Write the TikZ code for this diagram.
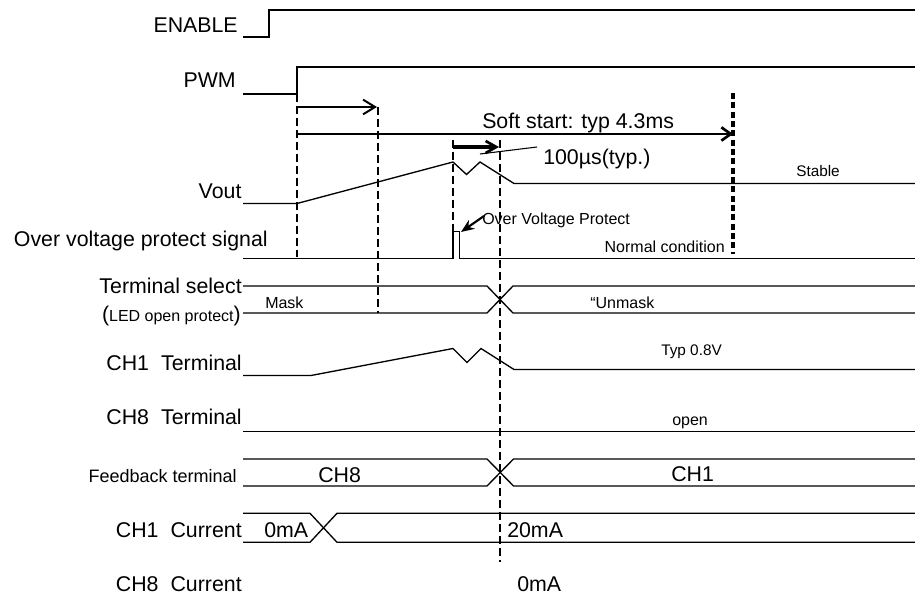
\documentclass[tikz,border=0pt]{standalone}
\usepackage{fontspec}
\setmainfont{Liberation Sans}
\usetikzlibrary{arrows.meta}
\begin{document}
\begin{tikzpicture}[x=0.75pt,y=-0.75pt,
  sig/.style={line width=1pt},
  vdash/.style={line width=1.5pt, dash pattern=on 6pt off 3pt},
  vdot/.style={line width=2.4pt, dash pattern=on 4.5pt off 2.5pt},
  arrA/.style={line width=1.5pt, -{Straight Barb[length=9pt,width=11pt,line width=1.5pt]}},
  arrB/.style={line width=2pt, -{Straight Barb[length=7pt,width=10pt,line width=2pt]}},
  arrC/.style={line width=2.6pt, -{Straight Barb[length=8pt,width=9pt,line width=2pt]}},
  arrD/.style={line width=1.6pt, -{Stealth[length=10pt,width=8pt]}},
  lead/.style={line width=0.8pt},
  lbl/.style={inner sep=0pt, anchor=base east, font=\fontsize{16}{19}\selectfont},
  big/.style={inner sep=0pt, anchor=base west, font=\fontsize{16}{19}\selectfont},
  small/.style={inner sep=0pt, anchor=base west, font=\fontsize{12}{14}\selectfont}
]
\useasboundingbox (0,0) rectangle (915,595);

% ---------- left labels ----------
\node[lbl] (lEN)  at (238,32.7) {ENABLE};
\node[lbl] (lPWM) at (236,87.7) {PWM};
\node[lbl] (lVo)  at (241.7,198.3) {Vout};
\node[lbl] (lOVP) at (268,246.7) {Over voltage protect signal};
\node[lbl] (lTS)  at (242,293.3) {Terminal select};
\node[lbl] (lLED) at (241,321.7) {(\fontsize{12}{14}\selectfont LED open protect\fontsize{16}{19}\selectfont)};
\node[lbl] (lC1T) at (242,371) {CH1\hspace{9pt}Terminal};
\node[lbl] (lC8T) at (242,425) {CH8\hspace{9pt}Terminal};
\node[lbl, font=\fontsize{13.5}{16}\selectfont] (lFB) at (237,482.7) {Feedback terminal};
\node[lbl] (lC1C) at (242,537.3) {CH1\hspace{9pt}Current};
\node[lbl] (lC8C) at (242,591) {CH8\hspace{9pt}Current};

% ---------- waveforms ----------
\draw[sig] (243,37) -- (269,37) -- (269,10) -- (915,10);
\draw[sig] (243,94) -- (297,94) -- (297,67) -- (915,67);
\draw[sig] (243,203.5) -- (297,203.5) -- (453,162) -- (466.5,174.5) -- (480,162) -- (514,183.5) -- (915,183.5);
\draw[sig] (243,258.5) -- (453,258.5) -- (453,231.5) -- (459.5,231.5) -- (459.5,258.5) -- (915,258.5);
\draw[sig] (243,286) -- (487,286) -- (513,313) -- (915,313);
\draw[sig] (243,313) -- (487,313) -- (513,286) -- (915,286);
\draw[sig] (243,375.5) -- (311,375.5) -- (453,348.5) -- (467,362.5) -- (481,348.5) -- (514,369.5) -- (915,369.5);
\draw[sig] (243,431.5) -- (915,431.5);
\draw[sig] (243,459) -- (487,459) -- (513.5,486) -- (915,486);
\draw[sig] (243,486) -- (487,486) -- (513.5,459) -- (915,459);
\draw[sig] (243,513.3) -- (310,513.3) -- (337,542.3) -- (915,542.3);
\draw[sig] (243,542.3) -- (310,542.3) -- (337,513.3) -- (915,513.3);

% ---------- vertical markers ----------
\coordinate (t0a) at (297,94);  \coordinate (t0b) at (297,257);
\coordinate (t1a) at (378,107); \coordinate (t1b) at (378,313);
\coordinate (t2a) at (453,140); \coordinate (t2b) at (453,258);
\coordinate (t3a) at (500,140); \coordinate (t3b) at (500,562);
\coordinate (t4a) at (733,93);  \coordinate (t4b) at (733,254);
\draw[vdash] (t0a) -- (t0b);
\draw[vdash] (t1a) -- (t1b);
\draw[vdash] (t2a) -- (t2b);
\draw[vdash] (t3a) -- (t3b);
\draw[vdot]  (t4a) -- (t4b);

% ---------- arrows ----------
\coordinate (a1s) at (297,107); \coordinate (a1e) at (377,107);
\coordinate (a2s) at (297,134); \coordinate (a2e) at (733,134);
\coordinate (a3s) at (453,147); \coordinate (a3e) at (499,147);
\draw[arrA] (a1s) -- (a1e);
\draw[arrB] (a2s) -- (a2e);
\draw[arrC] (a3s) -- (a3e);

% ---------- annotations ----------
\node[big] (tSS) at (482,128.3) {Soft start: typ 4.3ms};
\node[big] (t100) at (543,165) {100µs(typ.)};
\coordinate (ld1) at (480,154); \coordinate (ld2) at (537,147);
\draw[lead] (ld1) -- (ld2);
\node[small, font=\fontsize{11.5}{14}\selectfont] (tSt) at (796,176.7) {Stable};
\node[small] (tOVP) at (482,225) {Over Voltage Protect};
\coordinate (ovA) at (484,216); \coordinate (ovB) at (461,232);
\draw[arrD] (ovA) -- (ovB);
\node[small, anchor=base east] (tNC) at (725,252.7) {Normal condition};
\node[small] (tMask) at (265,308.3) {Mask};
\node[small] (tUn) at (590,308.3) {“Unmask};
\node[small, font=\fontsize{11.5}{14}\selectfont] (tTyp) at (661,356) {Typ 0.8V};
\node[small] (tOpen) at (672,425.7) {open};
\node[big] (tCH8) at (318,482.7) {CH8};
\node[big] (tCH1) at (671,481.7) {CH1};
\node[big] (t0mA) at (264,537.3) {0mA};
\node[big] (t20mA) at (507,537.3) {20mA};
\node[big] (t0mAb) at (517,591) {0mA};
\end{tikzpicture}
\end{document}
